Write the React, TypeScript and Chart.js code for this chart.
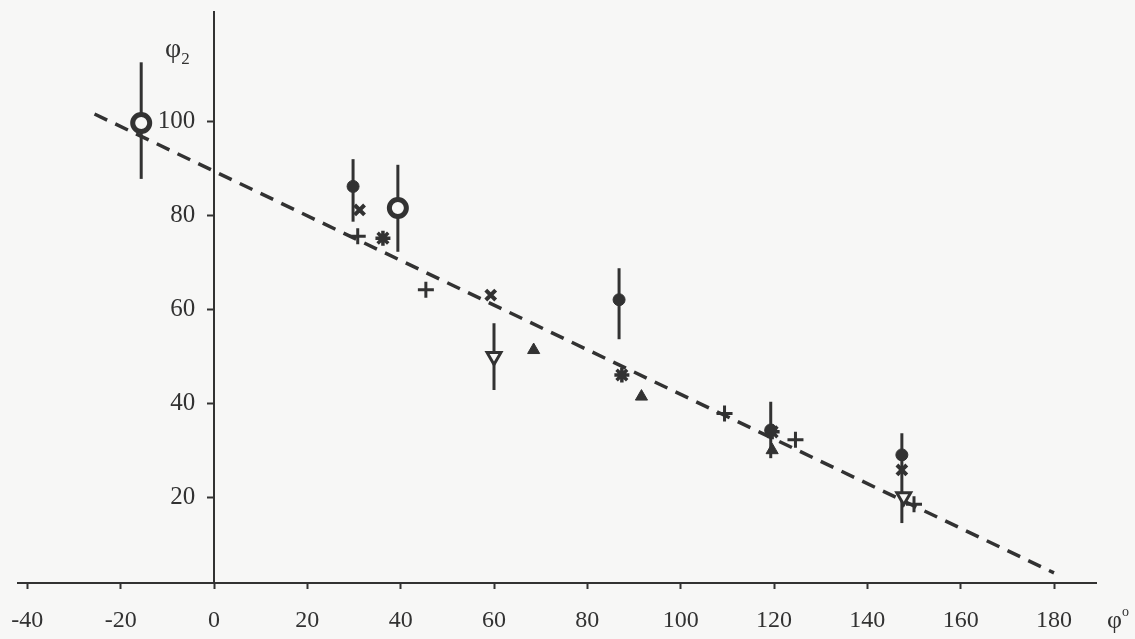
import React, { useEffect, useRef } from "react";
import { Chart, registerables } from "chart.js";

Chart.register(...registerables);

// Axis ticks
const xTicks = [-40, -20, 0, 20, 40, 60, 80, 100, 120, 140, 160, 180];
const yTicks = [20, 40, 60, 80, 100];

// Open circles with error bars
const openCircleX = [-15.6, 39.4];
const openCircleY = [99.7, 81.6];
const openCircleLo = [87.8, 72.3];
const openCircleHi = [112.6, 90.8];

// Filled circles with error bars
const filledCircleX = [29.8, 86.8, 119.3, 147.4];
const filledCircleY = [86.2, 62.1, 34.4, 29.1];
const filledCircleLo = [78.7, 53.7, 28.4, 14.6];
const filledCircleHi = [92.0, 68.8, 40.4, 33.7];

// Diagonal crosses
const crossX = [31.2, 59.3, 147.4];
const crossY = [81.2, 63.1, 25.9];

// Plus signs
const plusX = [30.8, 45.4, 109.4, 124.6, 150.0];
const plusY = [75.6, 64.2, 37.9, 32.3, 18.6];

// Stars
const starX = [36.2, 87.4, 119.6];
const starY = [75.2, 46.1, 34.0];

// Filled triangles
const triX = [68.5, 91.6, 119.6];
const triY = [51.4, 41.5, 30.1];

// Open inverted triangles
const invTriX = [60.0, 147.8];
const invTriY = [50.0, 20.2];
const invTriLo = [42.9, 20.2];
const invTriHi = [57.1, 20.2];

// Dashed fit line
const fitX = [-25.6, 180];
const fitY = [101.6, 4.0];

const INK = "#323232";
const BG = "#f7f7f6";
const FONT = "'Liberation Serif', 'DejaVu Serif', serif";

const pts = (xs: number[], ys: number[]) => xs.map((x, i) => ({ x, y: ys[i] }));

function errorBars(xs: number[], lo: number[], hi: number[]) {
  return xs
    .map((x, i) => ({ x, lo: lo[i], hi: hi[i] }))
    .filter((b) => b.hi !== b.lo)
    .map((b) => ({
      type: "line" as const,
      data: [
        { x: b.x, y: b.lo },
        { x: b.x, y: b.hi },
      ],
      borderColor: INK,
      borderWidth: 3,
      pointRadius: 0,
      showLine: true,
      order: 5,
    }));
}

const noScalePadding = (s: any) => {
  s.paddingLeft = 0;
  s.paddingRight = 0;
  s.paddingTop = 0;
  s.paddingBottom = 0;
};

export default function App() {
  const ref = useRef<HTMLCanvasElement | null>(null);

  useEffect(() => {
    document.body.style.margin = "0";
    document.body.style.background = BG;
    const ctx = ref.current!;
    const marker = (extra: any) => ({
      type: "scatter" as const,
      borderColor: INK,
      backgroundColor: INK,
      showLine: false,
      order: 1,
      ...extra,
    });
    const chart = new Chart(ctx, {
      type: "scatter",
      data: {
        datasets: [
          marker({
            data: pts(openCircleX, openCircleY),
            pointStyle: "circle",
            pointRadius: 8.5,
            pointBorderWidth: 5,
            backgroundColor: BG,
            pointBackgroundColor: BG,
          }),
          marker({
            data: pts(filledCircleX, filledCircleY),
            pointStyle: "circle",
            pointRadius: 6,
            pointBorderWidth: 1,
          }),
          marker({
            data: pts(crossX, crossY),
            pointStyle: "crossRot",
            pointRadius: 7,
            pointBorderWidth: 4,
          }),
          marker({
            data: pts(plusX, plusY),
            pointStyle: "cross",
            pointRadius: 8,
            pointBorderWidth: 3,
          }),
          marker({
            data: pts(starX, starY),
            pointStyle: "star",
            pointRadius: 7.5,
            pointBorderWidth: 3.5,
          }),
          marker({
            data: pts(triX, triY),
            pointStyle: "triangle",
            pointRadius: 7,
            pointBorderWidth: 1,
          }),
          marker({
            data: pts(invTriX, invTriY),
            pointStyle: "triangle",
            rotation: 180,
            pointRotation: 180,
            pointRadius: 8,
            pointBorderWidth: 3,
            backgroundColor: BG,
            pointBackgroundColor: BG,
          }),
          ...errorBars(openCircleX, openCircleLo, openCircleHi),
          ...errorBars(filledCircleX, filledCircleLo, filledCircleHi),
          ...errorBars(invTriX, invTriLo, invTriHi),
          {
            type: "line",
            data: pts(fitX, fitY),
            borderColor: INK,
            borderWidth: 3.5,
            borderDash: [14, 9],
            pointRadius: 0,
            order: 6,
          } as any,
        ] as any,
      },
      options: {
        animation: false,
        responsive: false,
        maintainAspectRatio: false,
        layout: {
          autoPadding: false,
          padding: { left: 18, right: 39, top: 12, bottom: 56 },
        } as any,
        plugins: { legend: { display: false }, tooltip: { enabled: false } },
        scales: {
          x: {
            type: "linear",
            min: -42,
            max: 189,
            position: { y: 1.85 } as any,
            afterBuildTicks: (axis: any) => {
              axis.ticks = xTicks.map((v) => ({ value: v }));
            },
            afterFit: noScalePadding,
            grid: {
              drawOnChartArea: false,
              drawTicks: true,
              tickLength: 5,
              tickWidth: 2,
              tickColor: INK,
            },
            border: { display: true, color: INK, width: 2 },
            ticks: {
              color: INK,
              padding: 18,
              maxRotation: 0,
              autoSkip: false,
              font: { family: FONT, size: 24 },
            },
          },
          y: {
            type: "linear",
            min: 1.85,
            max: 123.3,
            position: { x: 0 } as any,
            afterBuildTicks: (axis: any) => {
              axis.ticks = yTicks.map((v) => ({ value: v }));
            },
            afterFit: noScalePadding,
            grid: {
              drawOnChartArea: false,
              drawTicks: true,
              tickLength: 6,
              tickWidth: 2,
              tickColor: INK,
            },
            border: { display: true, color: INK, width: 2 },
            ticks: {
              color: INK,
              padding: 13,
              autoSkip: false,
              font: { family: FONT, size: 25 },
              callback: (v: any) => String(v) + "   ",
            },
          },
        },
      },
    });
    return () => chart.destroy();
  }, []);

  return (
    <div
      style={{
        position: "fixed",
        left: 0,
        top: 0,
        width: 1135,
        height: 639,
        background: BG,
        overflow: "hidden",
      }}
    >
      <canvas ref={ref} width={1135} height={639} style={{ display: "block" }} />
      <div
        style={{
          position: "absolute",
          left: 165,
          top: 34,
          fontFamily: FONT,
          fontSize: 28,
          color: INK,
          lineHeight: 1,
        }}
      >
        φ<sub style={{ fontSize: 17 }}>2</sub>
      </div>
      <div
        style={{
          position: "absolute",
          left: 1107,
          top: 605,
          fontFamily: FONT,
          fontSize: 26,
          color: INK,
          lineHeight: 1,
        }}
      >
        φ<sup style={{ fontSize: 14, verticalAlign: 12 }}>o</sup>
      </div>
    </div>
  );
}
